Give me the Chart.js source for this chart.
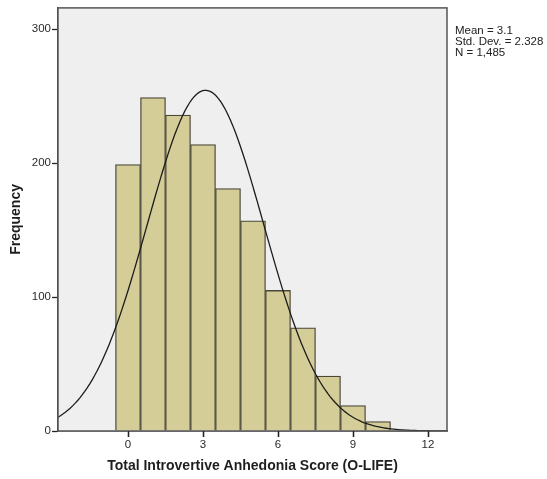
<!DOCTYPE html>
<html>
<head>
<meta charset="utf-8">
<script src="https://cdn.jsdelivr.net/npm/chart.js@4/dist/chart.umd.min.js"></script>
<style>
  html, body { margin: 0; padding: 0; background: #ffffff; }
  #wrap { width: 547px; height: 479px; }
</style>
</head>
<body>
<div id="wrap"><canvas id="c" width="547" height="479"></canvas></div>
<script>
// Histogram of O-LIFE introvertive anhedonia scores with a fitted normal curve
const scores = [0, 1, 2, 3, 4, 5, 6, 7, 8, 9, 10];
const frequencies = [199, 249, 236, 214, 181, 157, 105, 77, 41, 19, 7];
const xTicks = [0, 3, 6, 9, 12];
const yTicks = [0, 100, 200, 300];
const statLines = ['Mean = 3.1', 'Std. Dev. = 2.328', 'N = 1,485'];
const mean = 3.1;
const stdDev = 2.328;
const total = 1485;

const X_MIN = -2.8, X_MAX = 12.76, Y_MAX = 316;
const FONT = '"Liberation Sans", Arial, sans-serif';

// Normal density scaled to counts (bin width 1)
const curve = [];
for (let i = 0; i <= 160; i++) {
  const x = X_MIN + (X_MAX - X_MIN) * i / 160;
  const z = (x - mean) / stdDev;
  curve.push({ x, y: total / (stdDev * Math.sqrt(2 * Math.PI)) * Math.exp(-0.5 * z * z) });
}

const frame = {
  id: 'frame',
  beforeDatasetsDraw(chart) {
    const { ctx, chartArea: a } = chart;
    ctx.save();
    ctx.fillStyle = '#efefef';
    ctx.fillRect(a.left, a.top, a.right - a.left, a.bottom - a.top);
    ctx.restore();
  },
  afterDraw(chart) {
    const { ctx, chartArea: a } = chart;
    const xs = chart.scales.x;
    ctx.save();
    ctx.strokeStyle = '#555555';
    ctx.lineWidth = 1.5;
    ctx.strokeRect(a.left, a.top, a.right - a.left, a.bottom - a.top);
    // tick marks below the x axis
    ctx.strokeStyle = '#222222';
    ctx.lineWidth = 1.3;
    xTicks.forEach(v => {
      const px = Math.round(xs.getPixelForValue(v)) + 0.5;
      ctx.beginPath();
      ctx.moveTo(px, a.bottom);
      ctx.lineTo(px, a.bottom + 6);
      ctx.stroke();
    });
    ctx.fillStyle = '#222222';
    ctx.font = '11.5px ' + FONT;
    ctx.textBaseline = 'middle';
    statLines.forEach((t, i) => ctx.fillText(t, a.right + 8, 31 + i * 11));
    ctx.restore();
  }
};

new Chart(document.getElementById('c'), {
  data: {
    datasets: [
      {
        type: 'line',
        data: curve,
        borderColor: '#1c1c1c',
        borderWidth: 1.3,
        pointRadius: 0,
        tension: 0,
        order: 0
      },
      {
        type: 'bar',
        data: scores.map((s, i) => ({ x: s, y: frequencies[i] })),
        backgroundColor: '#d4cd98',
        borderColor: '#4a4738',
        borderWidth: 1.3,
        barPercentage: 1,
        categoryPercentage: 1,
        order: 1
      }
    ]
  },
  options: {
    responsive: false,
    animation: false,
    layout: { padding: { top: 6, right: 100, left: 0, bottom: 0 } },
    plugins: { legend: { display: false }, tooltip: { enabled: false } },
    scales: {
      x: {
        type: 'linear',
        min: X_MIN,
        max: X_MAX,
        offset: false,
        afterBuildTicks: s => { s.ticks = xTicks.map(v => ({ value: v })); },
        afterFit: s => { s.height = 48; },
        grid: { offset: false, drawOnChartArea: false, drawTicks: true, tickLength: 6, tickColor: '#222222', tickWidth: 1.3 },
        border: { color: '#444444', width: 1.5 },
        ticks: { color: '#2a2a2a', font: { family: FONT, size: 11.5 }, padding: 1 },
        title: {
          display: true,
          text: 'Total Introvertive Anhedonia Score (O-LIFE)',
          color: '#1e1e1e',
          font: { family: FONT, size: 14, weight: 'bold' },
          padding: { top: 4, bottom: 4 }
        }
      },
      y: {
        min: 0,
        max: Y_MAX,
        afterBuildTicks: s => { s.ticks = yTicks.map(v => ({ value: v })); },
        afterFit: s => { s.width = 58; },
        grid: { drawOnChartArea: false, drawTicks: true, tickLength: 6, tickColor: '#222222', tickWidth: 1.3 },
        border: { color: '#444444', width: 1.5 },
        ticks: { color: '#2a2a2a', font: { family: FONT, size: 11.5 }, padding: 1 },
        title: {
          display: true,
          text: 'Frequency',
          color: '#1e1e1e',
          font: { family: FONT, size: 14, weight: 'bold' },
          padding: { top: 8, bottom: 0 }
        }
      }
    }
  },
  plugins: [frame]
});
</script>
</body>
</html>
